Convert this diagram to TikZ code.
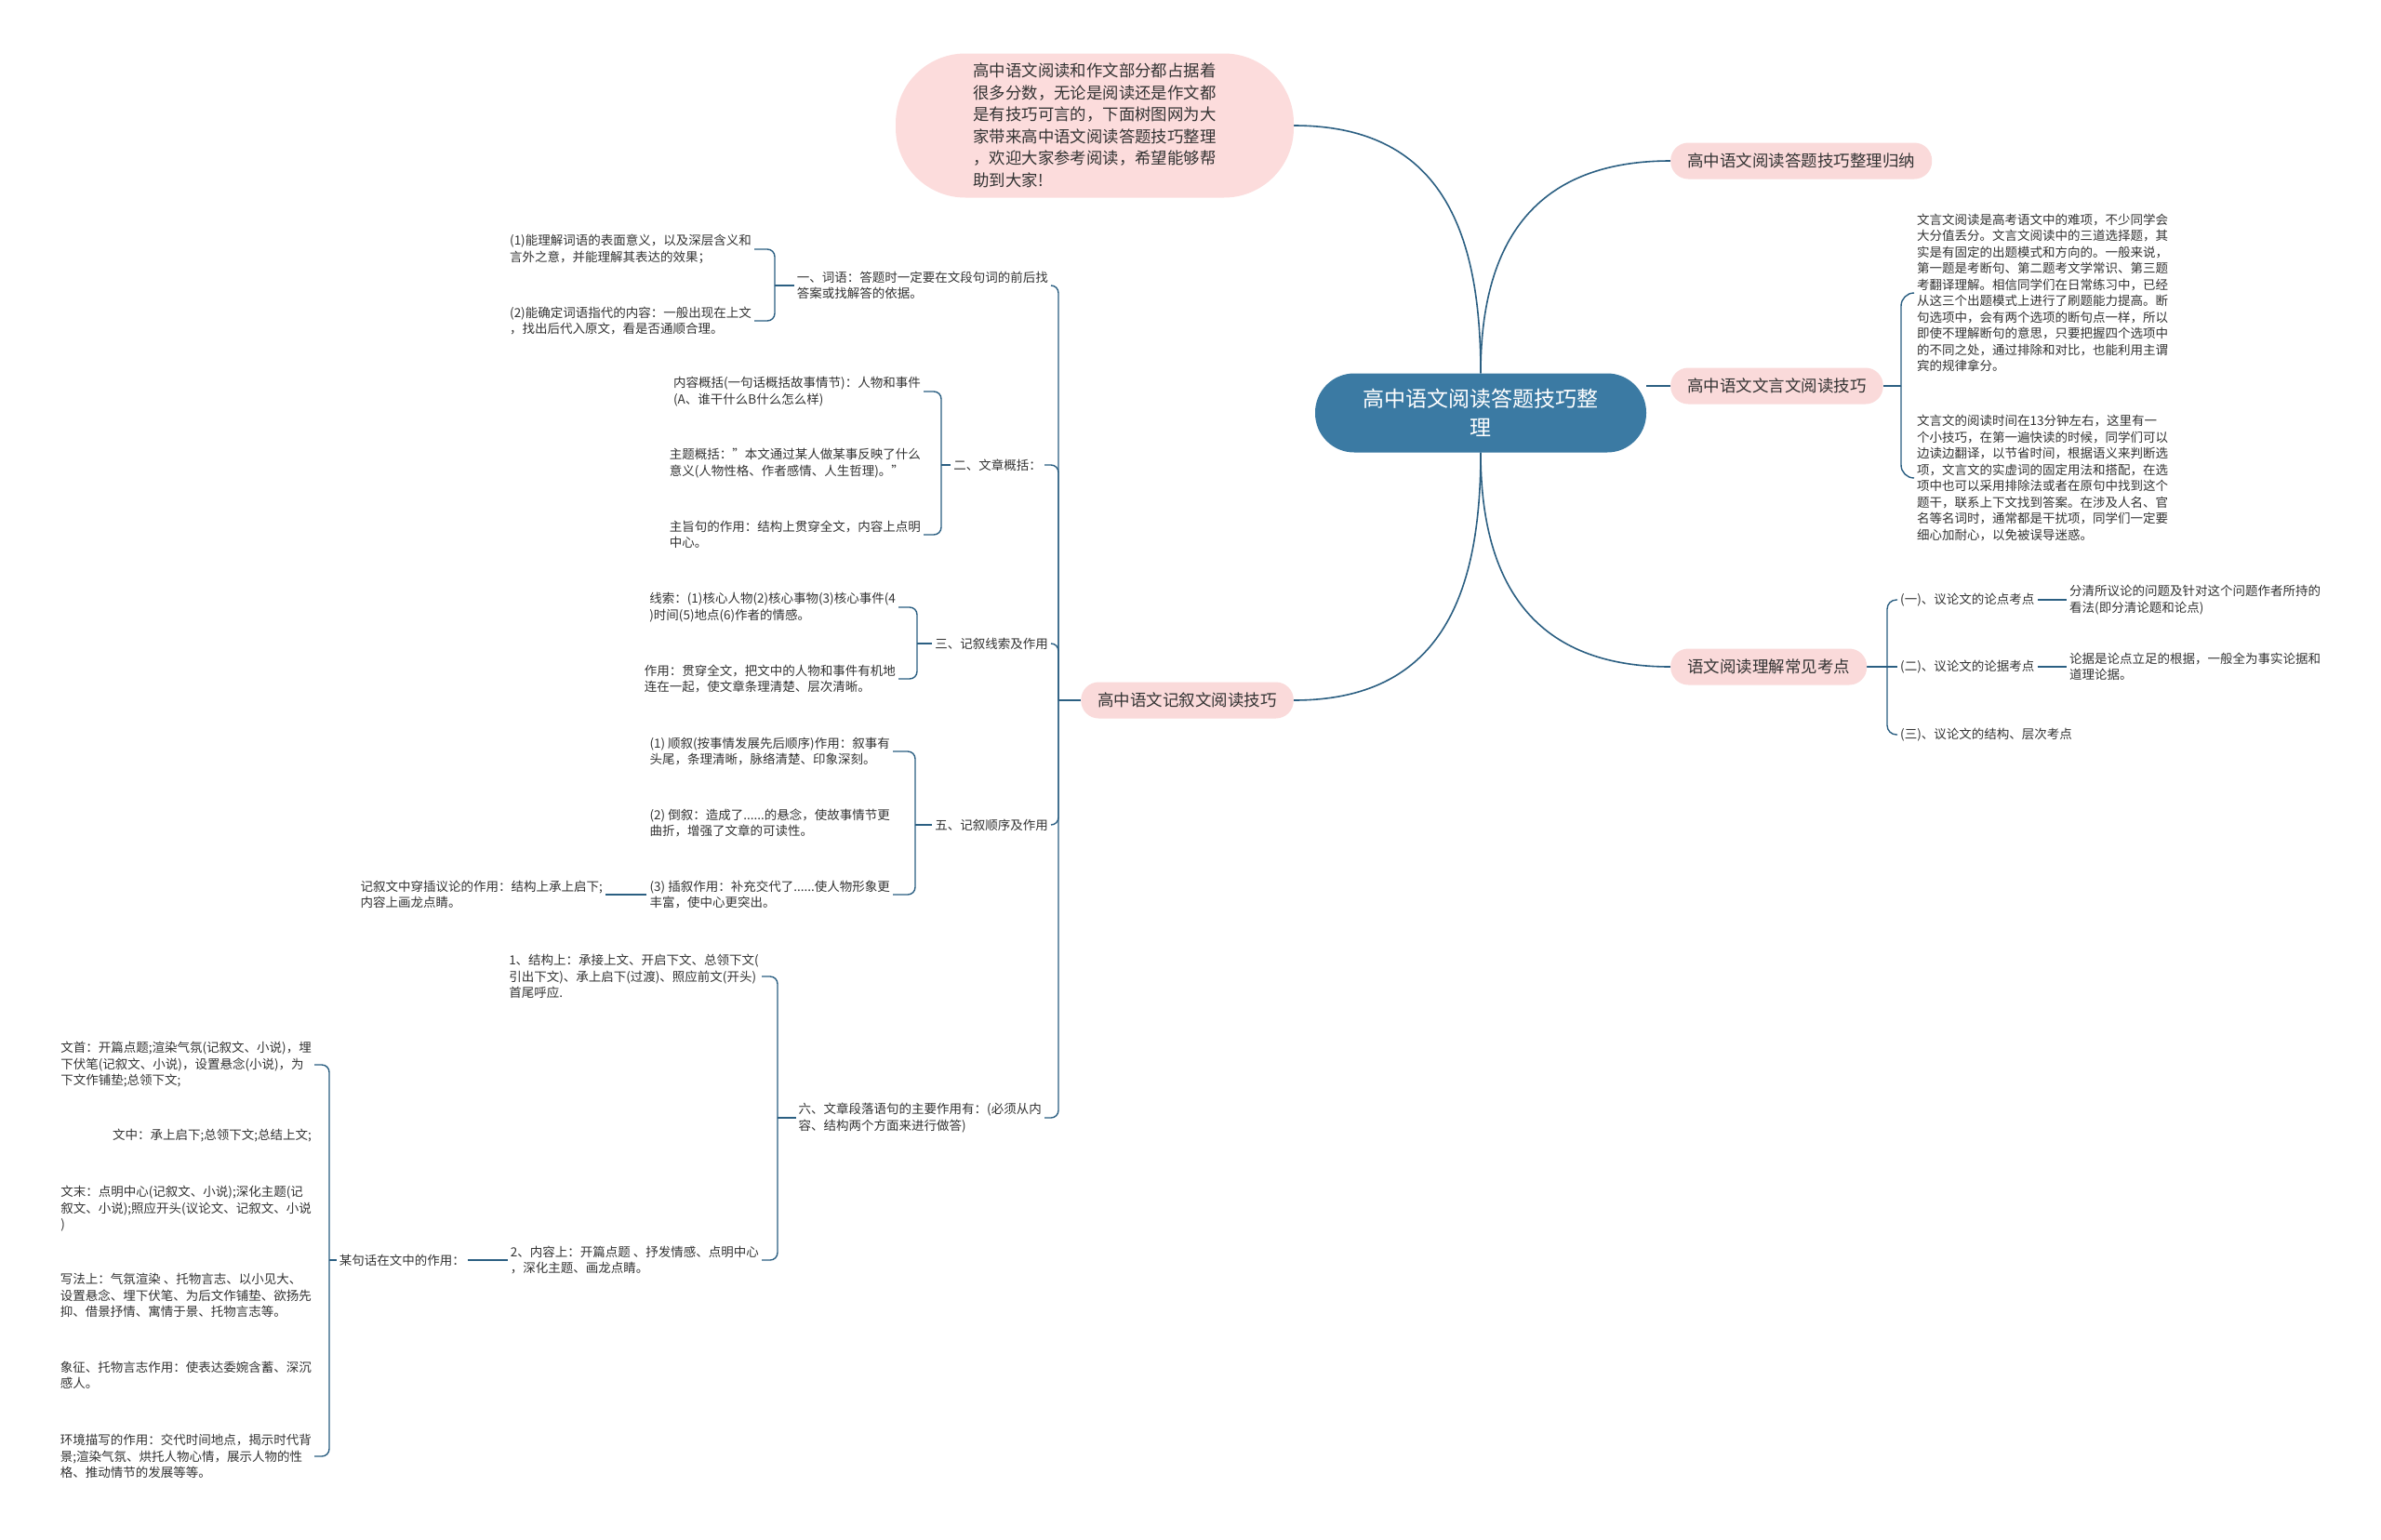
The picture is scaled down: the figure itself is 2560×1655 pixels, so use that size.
\documentclass[tikz,border=0pt]{standalone}
\usepackage{fontspec}
\setmainfont{Noto Sans CJK SC}
\usetikzlibrary{backgrounds}

\definecolor{linkblue}{HTML}{2B5F82}
\definecolor{rootblue}{HTML}{3B7AA3}
\definecolor{introPink}{HTML}{FCDCDC}
\definecolor{topicPink}{HTML}{FADADA}
\definecolor{txtgray}{HTML}{333333}

\begin{document}
\begin{tikzpicture}[x=1pt,y=-1pt,
  link/.style={draw=linkblue,line width=1.6pt},
  bracket/.style={draw=linkblue,line width=1.4pt,rounded corners=8pt},
  root/.style={fill=rootblue,text=white,rounded corners=42pt,minimum width=356pt,minimum height=85pt,align=center,font=\fontsize{23}{31}\selectfont},
  intro/.style={fill=introPink,rounded corners=75pt,minimum width=428pt,minimum height=155pt,align=left,text=txtgray,font=\fontsize{17.4}{23.5}\selectfont},
  topic/.style={fill=topicPink,rounded corners=19pt,minimum height=39pt,inner xsep=18pt,text=txtgray,font=\fontsize{17.5}{22}\selectfont},
  leaf/.style={align=left,inner sep=3pt,text=txtgray,font=\fontsize{13.5}{17.5}\selectfont},
]
\useasboundingbox (0,0) rectangle (2560,1655);

% centre and intro
\node [root] (root) at (1592,444) {高中语文阅读答题技巧整\\理};
\node [intro] (intro) at (1177,135) {高中语文阅读和作文部分都占据着\\很多分数，无论是阅读还是作文都\\是有技巧可言的，下面树图网为大\\家带来高中语文阅读答题技巧整理\\，欢迎大家参考阅读，希望能够帮\\助到大家!};

% first level
\node [topic,anchor=west] (sum) at (1796,173) {高中语文阅读答题技巧整理归纳};
\node [topic,anchor=west] (wyw) at (1796,415) {高中语文文言文阅读技巧};
\node [topic,anchor=west] (kd) at (1796,717) {语文阅读理解常见考点};
\node [topic,anchor=east] (jxw) at (1391,753) {高中语文记叙文阅读技巧};

% 文言文
\node [leaf,anchor=west] (wywA) at (2058,315) {文言文阅读是高考语文中的难项，不少同学会\\大分值丢分。文言文阅读中的三道选择题，其\\实是有固定的出题模式和方向的。一般来说，\\第一题是考断句、第二题考文学常识、第三题\\考翻译理解。相信同学们在日常练习中，已经\\从这三个出题模式上进行了刷题能力提高。断\\句选项中，会有两个选项的断句点一样，所以\\即使不理解断句的意思，只要把握四个选项中\\的不同之处，通过排除和对比，也能利用主谓\\宾的规律拿分。};
\node [leaf,anchor=west] (wywB) at (2058,514) {文言文的阅读时间在13分钟左右，这里有一\\个小技巧，在第一遍快读的时候，同学们可以\\边读边翻译，以节省时间，根据语义来判断选\\项，文言文的实虚词的固定用法和搭配，在选\\项中也可以采用排除法或者在原句中找到这个\\题干，联系上下文找到答案。在涉及人名、官\\名等名词时，通常都是干扰项，同学们一定要\\细心加耐心，以免被误导迷惑。};

% 考点
\node [leaf,anchor=west] (kdA) at (2040,645) {(一)、议论文的论点考点};
\node [leaf,anchor=west] (kdB) at (2040,717) {(二)、议论文的论据考点};
\node [leaf,anchor=west] (kdC) at (2040,790) {(三)、议论文的结构、层次考点};
\node [leaf,anchor=west] (kdA1) at (2222,645) {分清所议论的问题及针对这个问题作者所持的\\看法(即分清论题和论点)};
\node [leaf,anchor=west] (kdB1) at (2222,717) {论据是论点立足的根据，一般全为事实论据和\\道理论据。};

% 记叙文
\node [leaf,anchor=east] (ci) at (1130,307) {一、词语：答题时一定要在文段句词的前后找\\答案或找解答的依据。};
\node [leaf,anchor=east] (ciA) at (811,268) {(1)能理解词语的表面意义，以及深层含义和\\言外之意，并能理解其表达的效果；};
\node [leaf,anchor=east] (ciB) at (811,345) {(2)能确定词语指代的内容：一般出现在上文\\，找出后代入原文，看是否通顺合理。};

\node [leaf,anchor=east] (gk) at (1123,500) {二、文章概括：};
\node [leaf,anchor=east] (gkA) at (993,421) {内容概括(一句话概括故事情节)：人物和事件\\(A、谁干什么B什么怎么样)};
\node [leaf,anchor=east] (gkB) at (993,498) {主题概括："本文通过某人做某事反映了什么\\意义(人物性格、作者感情、人生哲理)。"};
\node [leaf,anchor=east] (gkC) at (993,575) {主旨句的作用：结构上贯穿全文，内容上点明\\中心。};

\node [leaf,anchor=east] (xs) at (1130,692) {三、记叙线索及作用};
\node [leaf,anchor=east] (xsA) at (966,653) {线索：(1)核心人物(2)核心事物(3)核心事件(4\\)时间(5)地点(6)作者的情感。};
\node [leaf,anchor=east] (xsB) at (966,730) {作用：贯穿全文，把文中的人物和事件有机地\\连在一起，使文章条理清楚、层次清晰。};

\node [leaf,anchor=east] (sx) at (1130,887) {五、记叙顺序及作用};
\node [leaf,anchor=east] (sxA) at (960,808) {(1) 顺叙(按事情发展先后顺序)作用：叙事有\\头尾，条理清晰，脉络清楚、印象深刻。};
\node [leaf,anchor=east] (sxB) at (960,885) {(2) 倒叙：造成了......的悬念，使故事情节更\\曲折，增强了文章的可读性。};
\node [leaf,anchor=east] (sxC) at (960,962) {(3) 插叙作用：补充交代了......使人物形象更\\丰富，使中心更突出。};
\node [leaf,anchor=east] (sxC1) at (651,962) {记叙文中穿插议论的作用：结构上承上启下;\\内容上画龙点睛。};

\node [leaf,anchor=east] (dl) at (1123,1202) {六、文章段落语句的主要作用有：(必须从内\\容、结构两个方面来进行做答)};
\node [leaf,anchor=east] (dlA) at (819,1050) {1、结构上：承接上文、开启下文、总领下文(\\引出下文)、承上启下(过渡)、照应前文(开头)\\首尾呼应.};
\node [leaf,anchor=east] (dlB) at (819,1355) {2、内容上：开篇点题 、抒发情感、点明中心\\，深化主题、画龙点睛。};

\node [leaf,anchor=east] (jh) at (503,1355) {某句话在文中的作用：};
\node [leaf,anchor=east] (jhA) at (338,1145) {文首：开篇点题;渲染气氛(记叙文、小说)，埋\\下伏笔(记叙文、小说)，设置悬念(小说)，为\\下文作铺垫;总领下文;};
\node [leaf,anchor=east] (jhB) at (338,1221) {文中：承上启下;总领下文;总结上文;};
\node [leaf,anchor=east] (jhC) at (338,1300) {文末：点明中心(记叙文、小说);深化主题(记\\叙文、小说);照应开头(议论文、记叙文、小说\\)};
\node [leaf,anchor=east] (jhD) at (338,1393) {写法上：气氛渲染 、托物言志、以小见大、\\设置悬念、埋下伏笔、为后文作铺垫、欲扬先\\抑、借景抒情、寓情于景、托物言志等。};
\node [leaf,anchor=east] (jhE) at (338,1479) {象征、托物言志作用：使表达委婉含蓄、深沉\\感人。};
\node [leaf,anchor=east] (jhF) at (338,1566) {环境描写的作用：交代时间地点，揭示时代背\\景;渲染气氛、烘托人物心情，展示人物的性\\格、推动情节的发展等等。};

% bracket points
\coordinate (bWyw) at (2044,415);
\coordinate (bKd) at (2029,717);
\coordinate (bJxw) at (1138,753);
\coordinate (bCi) at (833,307);
\coordinate (bGk) at (1012,500);
\coordinate (bXs) at (986,692);
\coordinate (bSx) at (984,887);
\coordinate (bDl) at (836,1202);
\coordinate (bJh) at (354,1355);

\begin{scope}[on background layer]
\fill[white] (0,0) rectangle (2560,1655);

% from the centre
\draw[link] (root.north) to[out=90,in=0,looseness=1.2] (intro.east);
\draw[link] (root.north) to[out=90,in=180,looseness=1.2] (sum.west);
\draw[link] (wyw.west) -- (wyw.west -| root.east);
\draw[link] (root.south) to[out=-90,in=180,looseness=1.2] (kd.west);
\draw[link] (root.south) to[out=-90,in=0,looseness=1.2] (jxw.east);

% right brackets
\draw[bracket] (wyw.east) -- (bWyw);
\draw[bracket,rounded corners=14pt] (bWyw) |- (wywA.west);
\draw[bracket,rounded corners=14pt] (bWyw) |- (wywB.west);
\draw[bracket] (kd.east) -- (bKd);
\draw[bracket,rounded corners=10pt] (bKd) |- (kdA.west);
\draw[bracket,rounded corners=10pt] (bKd) |- (kdC.west);
\draw[bracket] (bKd) -- (kdB.west);
\draw[bracket] (kdA) -- (kdA1);
\draw[bracket] (kdB) -- (kdB1);

% left brackets
\draw[bracket] (jxw.west) -- (bJxw);
\foreach \n in {ci,gk,xs,sx,dl} \draw[bracket] (bJxw) |- (\n.east);

\draw[bracket] (ci.west) -- (bCi);
\foreach \n in {ciA,ciB} \draw[bracket] (bCi) |- (\n.east);
\draw[bracket] (gk.west) -- (bGk);
\foreach \n in {gkA,gkC} \draw[bracket] (bGk) |- (\n.east);
\draw[bracket] (xs.west) -- (bXs);
\foreach \n in {xsA,xsB} \draw[bracket] (bXs) |- (\n.east);
\draw[bracket] (sx.west) -- (bSx);
\foreach \n in {sxA,sxC} \draw[bracket] (bSx) |- (\n.east);
\draw[bracket] (sxC) -- (sxC1);
\draw[bracket] (dl.west) -- (bDl);
\foreach \n in {dlA,dlB} \draw[bracket] (bDl) |- (\n.east);
\draw[bracket] (dlB) -- (jh);
\draw[bracket] (jh.west) -- (bJh);
\foreach \n in {jhA,jhF} \draw[bracket] (bJh) |- (\n.east);
\end{scope}

\end{tikzpicture}
\end{document}
